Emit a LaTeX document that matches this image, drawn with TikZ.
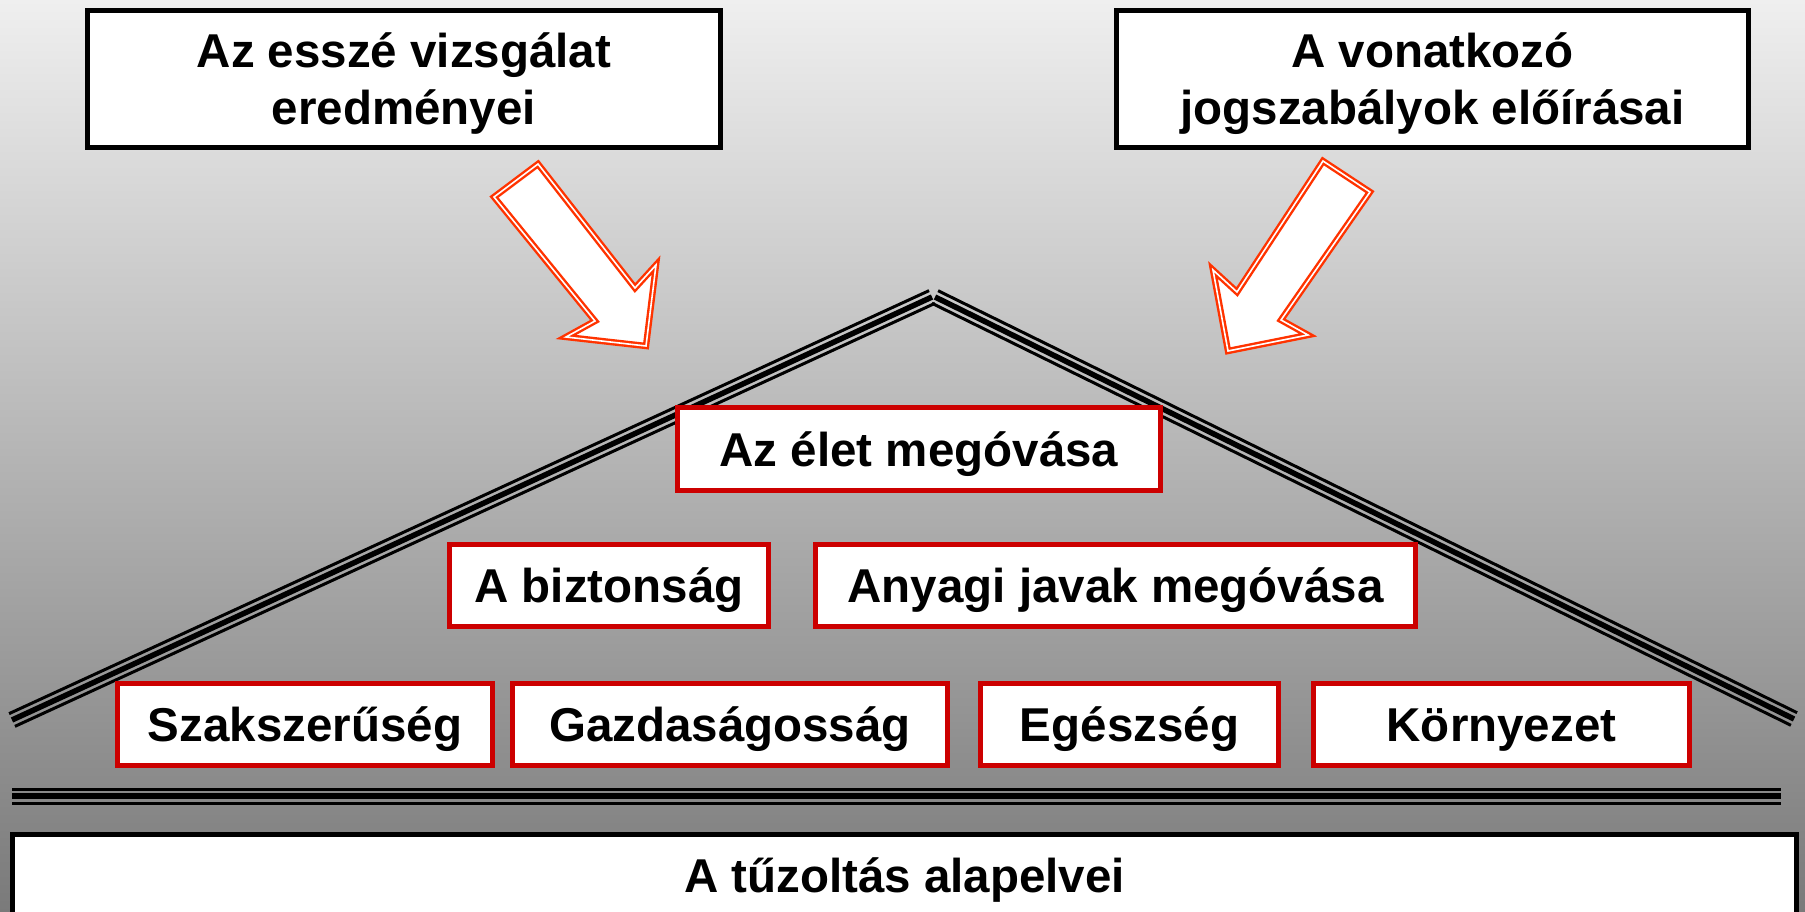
\documentclass[tikz,border=0pt]{standalone}
\usepackage{fontspec}
\setmainfont{Liberation Sans}
\usetikzlibrary{calc}
\definecolor{boxred}{HTML}{CC0000}
\definecolor{arrred}{HTML}{FF3300}
\definecolor{bgtop}{HTML}{EFEFEF}
\definecolor{bgbot}{HTML}{7A7A7A}
\newcommand\tripleline[2]{%
  \draw[line width=5.5pt] (#1) -- (#2);
  \draw[line width=3pt] ($(#1)!7pt!90:(#2)$) -- ($(#2)!7pt!-90:(#1)$);
  \draw[line width=3pt] ($(#1)!7pt!-90:(#2)$) -- ($(#2)!7pt!90:(#1)$);
}
\begin{document}
\begin{tikzpicture}[x=1pt,y=-1pt,
  txt/.style={font=\fontsize{47.5}{57}\selectfont\bfseries},
  topbox/.style={draw=black, line width=5pt, fill=white, inner sep=0pt, align=center, txt},
  redbox/.style={draw=boxred, line width=5pt, fill=white, inner sep=0pt, txt, text height=34pt, text depth=0pt},
  basebox/.style={draw=black, line width=5pt, fill=white, inner sep=0pt, txt, text height=34pt, text depth=0pt},
  blockarrow/.style={draw=arrred, double=white, line width=2.4pt, double distance=1.6pt, fill=white, line join=miter}
]
\useasboundingbox (0,0) rectangle (1805,912);
\clip (0,0) rectangle (1805,912);
\shade[top color=bgtop, bottom color=bgbot] (0,0) rectangle (1805,912);

% roof and floor lines
\coordinate (roofL) at (12,720);
\coordinate (apexL) at (932,297);
\coordinate (apexR) at (935,297);
\coordinate (roofR) at (1794,719);
\coordinate (floorL) at (12,796);
\coordinate (floorR) at (1781,796);
\tripleline{roofL}{apexL}
\tripleline{apexR}{roofR}
\tripleline{floorL}{floorR}

% block arrows
\draw[blockarrow] (494,197) -- (538,164) -- (635,288) -- (656,265) -- (646,346)
  -- (566,337) -- (595,321) -- cycle;
\draw[blockarrow] (1370,192) -- (1323,161) -- (1237,292) -- (1213,270) -- (1228,351)
  -- (1308,335) -- (1281,320) -- cycle;

% top boxes
\node[topbox, minimum width=633pt, minimum height=137pt] (essze) at (404,79)
  {Az esszé vizsgálat\\\raisebox{0pt}[\height][0pt]{eredményei}};
\node[topbox, minimum width=632pt, minimum height=137pt] (jog) at (1432.5,79)
  {A vonatkozó\\\raisebox{0pt}[\height][0pt]{jogszabályok előírásai}};

% red boxes
\node[redbox, minimum width=483pt, minimum height=83pt] (elet) at (919,449) {Az élet megóvása};
\node[redbox, minimum width=319pt, minimum height=82pt] (bizt) at (609,585.5) {A biztonság};
\node[redbox, minimum width=600pt, minimum height=82pt] (anyagi) at (1115.5,585.5) {Anyagi javak megóvása};
\node[redbox, minimum width=375pt, minimum height=82pt] (szak) at (305,724.5) {Szakszerűség};
\node[redbox, minimum width=435pt, minimum height=82pt] (gazd) at (730,724.5) {Gazdaságosság};
\node[redbox, minimum width=298pt, minimum height=82pt] (egesz) at (1129.5,724.5) {Egészség};
\node[redbox, minimum width=376pt, minimum height=82pt] (korny) at (1501.5,724.5) {Környezet};

% base box
\node[basebox, minimum width=1784pt, minimum height=81pt] (alap) at (904.5,875) {A tűzoltás alapelvei};
\end{tikzpicture}
\end{document}
